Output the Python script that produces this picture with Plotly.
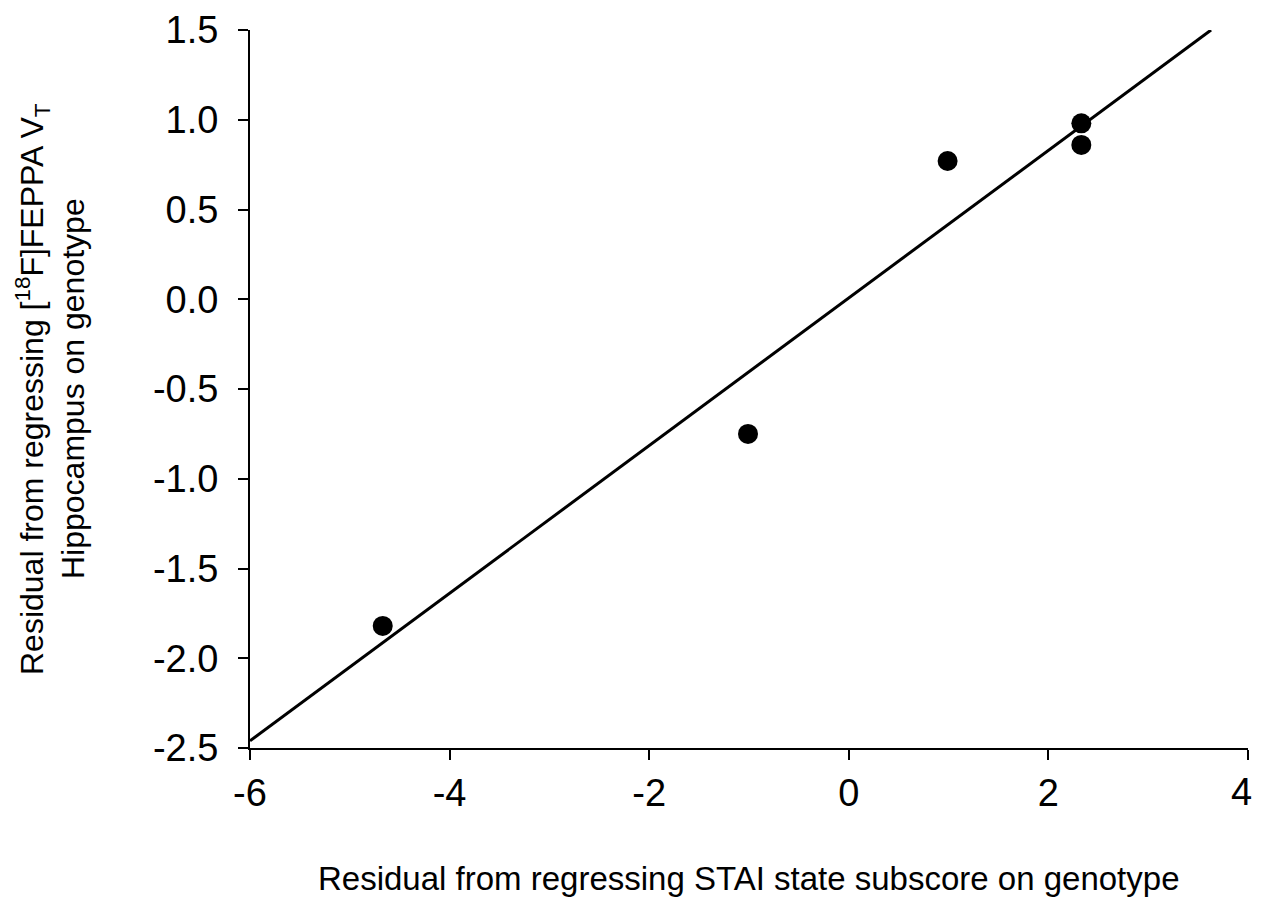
import plotly.graph_objects as go

# Data
resid_stai = [-4.67, -1.01, 0.99, 2.33, 2.33]
resid_vt = [-1.82, -0.75, 0.77, 0.98, 0.86]

# Regression line endpoints
fit_x = [-6.0, 3.63]
fit_y = [-2.46, 1.50]

x_ticks = [-6, -4, -2, 0, 2, 4]
y_ticks = [-2.5, -2.0, -1.5, -1.0, -0.5, 0.0, 0.5, 1.0, 1.5]

FONT = "Liberation Sans, Arial, sans-serif"

# page body adds 8px offset; compensate
L, T, PW, PH = 242, 22, 998, 718
W, H = 1253, 891

fig = go.Figure()
fig.add_trace(go.Scatter(x=fit_x, y=fit_y, mode="lines",
                         line=dict(color="black", width=3), showlegend=False,
                         cliponaxis=False))
fig.add_trace(go.Scatter(x=resid_stai, y=resid_vt, mode="markers",
                         marker=dict(color="black", size=20), showlegend=False,
                         cliponaxis=False))

fig.update_layout(
    width=W, height=H,
    margin=dict(l=L, r=W - L - PW, t=T, b=H - T - PH, pad=0, autoexpand=False),
    paper_bgcolor="white", plot_bgcolor="white",
    font=dict(family=FONT, color="black"),
    showlegend=False,
)
# last x tick label is drawn as an annotation so it stays inside the page edge
x_text = [str(v) for v in x_ticks]
last_label = x_text[-1]
x_text[-1] = ""
fig.update_xaxes(range=[-6, 4], tickvals=x_ticks, ticktext=x_text,
                 automargin=False, ticklabeloverflow="allow",
                 showgrid=False, zeroline=False, showline=True, linecolor="black",
                 linewidth=2, ticks="outside", ticklen=10, tickwidth=2, tickcolor="black",
                 tickfont=dict(size=38, family=FONT, color="black"))
fig.update_yaxes(range=[-2.5, 1.5], tickvals=y_ticks, ticktext=[f"{v:.1f}" for v in y_ticks],
                 automargin=False, ticklabeloverflow="allow",
                 showgrid=False, zeroline=False, showline=True, linecolor="black",
                 linewidth=2, ticks="outside", ticklen=10, tickwidth=2, tickcolor="black",
                 ticklabelstandoff=12,
                 tickfont=dict(size=38, family=FONT, color="black"))

fig.add_annotation(text=last_label, xref="x", yref="paper", x=x_ticks[-1], y=-44 / PH,
                   xanchor="right", yanchor="middle", xshift=6, showarrow=False,
                   font=dict(size=38, family=FONT, color="black"))

# Axis titles as annotations
fig.add_annotation(text="Residual from regressing STAI state subscore on genotype",
                   xref="paper", yref="paper", x=0.5, y=-(878 - 748) / PH,
                   xanchor="center", yanchor="middle",
                   showarrow=False, font=dict(size=33, family=FONT, color="black"))
fig.add_annotation(text="Residual from regressing [<sup>18</sup>F]FEPPA V<sub>T</sub>",
                   xref="paper", yref="paper", x=-218 / PW, y=0.5,
                   xanchor="center", yanchor="middle", textangle=-90,
                   showarrow=False, font=dict(size=32, family=FONT, color="black"))
fig.add_annotation(text="Hippocampus on genotype",
                   xref="paper", yref="paper", x=-177 / PW, y=0.5,
                   xanchor="center", yanchor="middle", textangle=-90,
                   showarrow=False, font=dict(size=32, family=FONT, color="black"))

fig.write_html("out.html")
